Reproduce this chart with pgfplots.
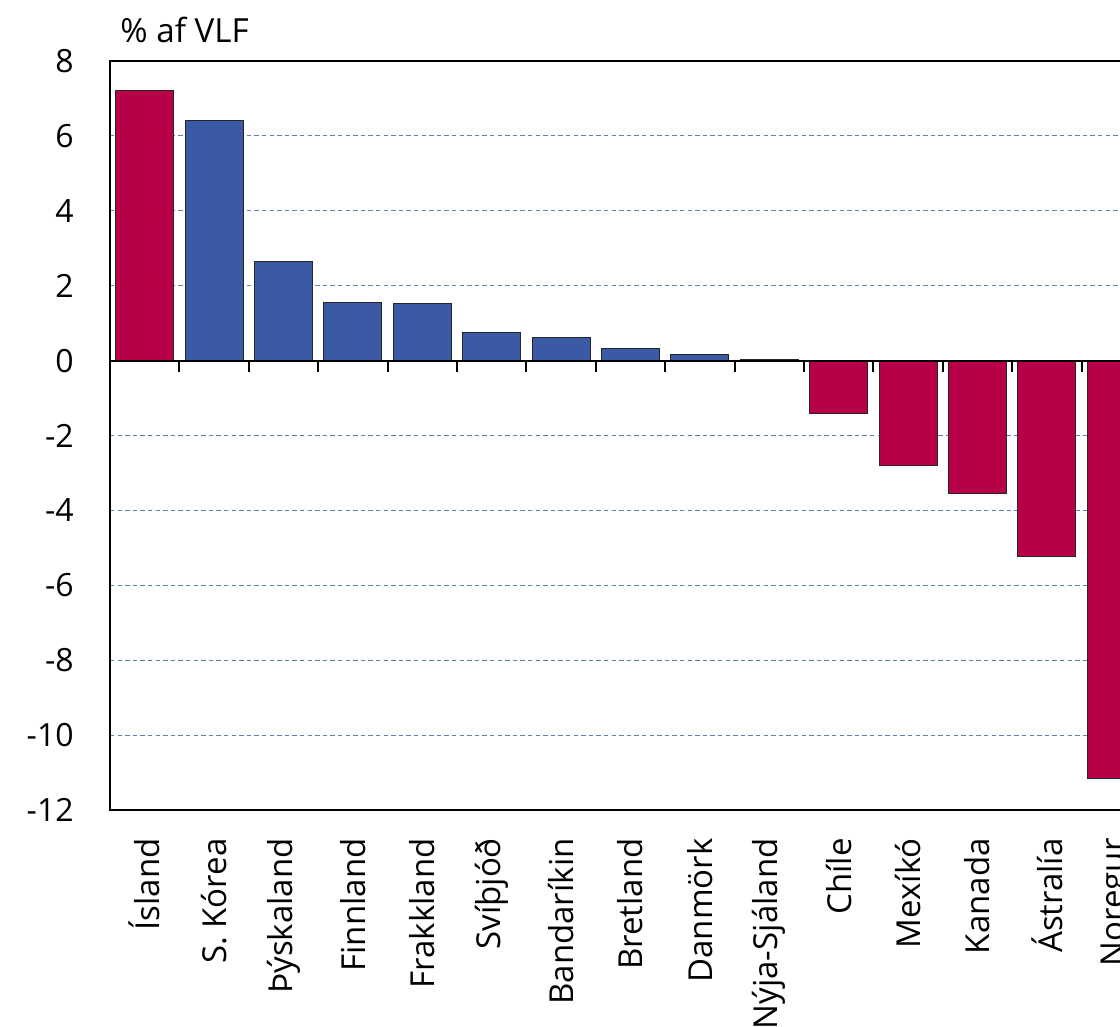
\documentclass[border=0pt]{standalone}
\usepackage{pgfplots}
\pgfplotsset{compat=1.18}
\usepackage{fontspec}
\setmainfont{Open Sans}
\definecolor{barred}{RGB}{184,0,72}
\definecolor{barblue}{RGB}{59,90,166}
\definecolor{gridblue}{RGB}{96,130,182}
\begin{document}
\begin{tikzpicture}
\useasboundingbox (-55pt,-108.5pt) rectangle (505pt,405pt);
\clip (-55pt,-108.5pt) rectangle (505pt,405pt);
\begin{axis}[
  at={(0,0)}, anchor=south west,
  scale only axis, width=520.5pt, height=374.5pt,
  xmin=-0.5, xmax=14.5, ymin=-12, ymax=8,
  axis line style={black, line width=1pt},
  xtick={0,...,14},
  xticklabels={Ísland,S. Kórea,Þýskaland,Finnland,Frakkland,Svíþjóð,Bandaríkin,Bretland,Danmörk,Nýja-Sjáland,Chíle,Mexíkó,Kanada,Ástralía,Noregur},
  ytick={-12,-10,...,8},
  yticklabels={-12,-10,-8,-6,-4,-2,0,2,4,6,8},
  major tick length=0pt,
  tick style={draw=none},
  ymajorgrids,
  grid style={gridblue, line width=0.5pt, dash pattern=on 2.2pt off 1.6pt},
  yticklabel style={font=\fontsize{16}{19}\selectfont, inner sep=0pt, anchor=east},
  xticklabel style={font=\fontsize{16.5}{20}\selectfont, inner sep=0pt, rotate=90, anchor=east},
  xticklabel shift=14pt,
  yticklabel shift=18pt,
  ybar, bar shift=0pt, bar width=0.836,
  clip=false,
]
\addplot[fill=barred, draw=black!85, line width=0.5pt] coordinates {
 (0,7.2) (10,-1.42) (11,-2.8) (12,-3.55) (13,-5.23) (14,-11.16)};
\addplot[fill=barblue, draw=black!85, line width=0.5pt] coordinates {
 (1,6.4) (2,2.65) (3,1.55) (4,1.52) (5,0.75) (6,0.61) (7,0.32) (8,0.15) (9,0.03)};
\draw[black, line width=1pt] (axis cs:-0.5,0) -- (axis cs:14.5,0);
\pgfplotsinvokeforeach{0.5,1.5,2.5,3.5,4.5,5.5,6.5,7.5,8.5,9.5,10.5,11.5,12.5,13.5}{
  \draw[black, line width=1pt] (axis cs:#1,0) -- ([yshift=-5.5pt]axis cs:#1,0);
}
\node[anchor=base west, inner sep=0pt, font=\fontsize{16.6}{20}\selectfont]
  at ([xshift=5pt,yshift=9pt]rel axis cs:0,1) {\% af VLF};
\end{axis}
\end{tikzpicture}
\end{document}
